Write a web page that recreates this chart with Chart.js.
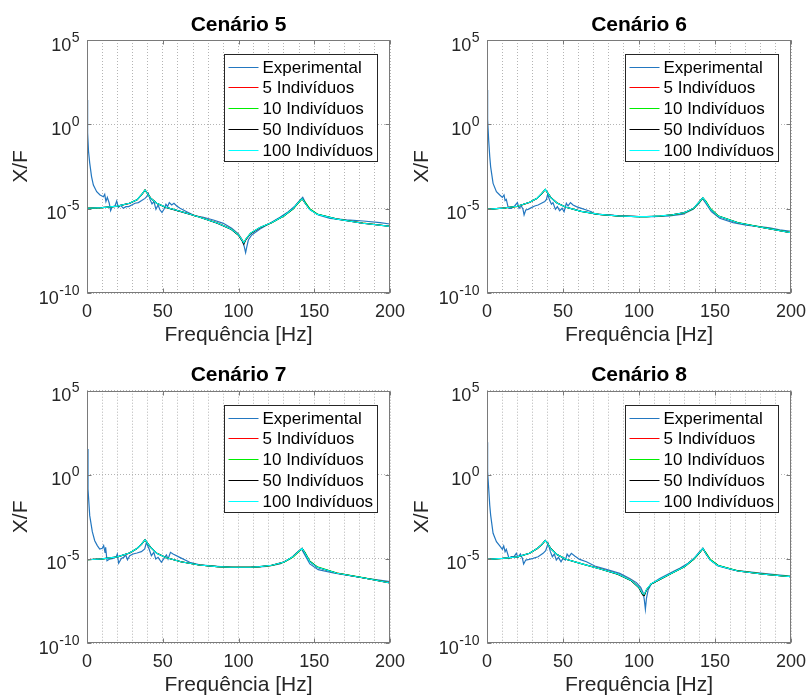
<!DOCTYPE html>
<html>
<head>
<meta charset="utf-8">
<script src="https://cdn.jsdelivr.net/npm/chart.js@4.4.1/dist/chart.umd.min.js"></script>
<style>
  html, body { margin: 0; padding: 0; background: #fff; }
  #fig { position: relative; width: 810px; height: 698px; }
  #fig canvas { position: absolute; }
</style>
</head>
<body>
<div id="fig">
  <canvas id="cen5" width="405" height="349" style="left:0;top:0"></canvas>
  <canvas id="cen6" width="405" height="349" style="left:405px;top:0"></canvas>
  <canvas id="cen7" width="405" height="349" style="left:0;top:349px"></canvas>
  <canvas id="cen8" width="405" height="349" style="left:405px;top:349px"></canvas>
</div>
<script>
const FONT = '"Liberation Sans", Arial, Helvetica, sans-serif';
const TEXT = '#262626';
const GRID = '#b4b4b4';
const FRAME = '#7a7a7a';

const panelTitles = ['Cenário 5', 'Cenário 6', 'Cenário 7', 'Cenário 8'];
const seriesLabels = ['Experimental', '5 Indivíduos', '10 Indivíduos', '50 Indivíduos', '100 Indivíduos'];
const seriesColors = ['#2377c0', '#ff0000', '#00ee00', '#000000', '#00ffff'];

const xTickLabels = [0, 50, 100, 150, 200];
const xGridValues = [0, 10, 20, 30, 40, 50, 60, 70, 80, 90, 100, 110, 120, 130, 140, 150, 160, 170, 180, 190, 200];
const yTickValues = [1e-10, 1e-5, 1, 1e5];
const yTickExponents = ['-10', '-5', '0', '5'];

// frequency grid of the identified models (Hz)
const modelFreq = [0, 10, 20, 28, 33, 36, 38.3, 40, 42, 46, 52, 62, 74, 86, 95, 100, 102.5, 103.5, 105, 108,
  114, 122, 130, 136, 140, 142, 144, 147, 152, 165, 182, 200];

// Cenário 5
const expFreq5 = [0, 0.4, 1.0, 1.8, 3.0, 4.2, 6.4, 8.6, 10.8, 11.7, 12.5, 13.4, 14.7, 15.6, 16.7, 18.3, 19.6, 20.7,
  22.2, 24.0, 25.7, 27.5, 29.5, 31.7, 33.9, 36.1, 38.3, 39.4, 40.5, 41.6, 42.9, 44.2, 45.5, 46.9, 48.2, 49.5, 50.8,
  52.1, 53.2, 54.3, 55.9, 57.4, 59.2, 61.4, 65.8, 71.3, 76.8, 83.4, 90.0, 95.5, 99.9, 102.5, 103.8, 104.7, 105.4,
  106.5, 108.7, 114.2, 120.8, 127.4, 132.9, 137.3, 140.6, 142.4, 144.1, 147.2, 152.7, 160.4, 171.4, 182.4, 193.4, 200];
const cen5Exp = [27.5, 0.316, 0.0251, 5.01e-3, 7.94e-4, 2.51e-4, 1.02e-4, 6.46e-5, 5.13e-5, 7.08e-5, 2.63e-5, 4.68e-5,
  2.09e-5, 7.59e-6, 1.32e-5, 1.32e-5, 2.82e-5, 1.20e-5, 1.58e-5, 1.05e-5, 1.32e-5, 1.32e-5, 1.66e-5, 2.09e-5, 2.29e-5,
  3.02e-5, 4.07e-5, 5.13e-5, 8.13e-5, 3.55e-5, 1.91e-5, 2.63e-5, 9.12e-6, 1.66e-5, 8.32e-6, 6.03e-6, 9.12e-6, 1.82e-5,
  1.32e-5, 2.29e-5, 1.66e-5, 2.09e-5, 1.45e-5, 1.05e-5, 6.61e-6, 3.72e-6, 3.09e-6, 2.14e-6, 1.35e-6, 6.92e-7, 3.16e-7,
  1.38e-7, 5.62e-8, 2.45e-8, 5.13e-8, 1.38e-7, 2.75e-7, 6.31e-7, 1.35e-6, 3.09e-6, 6.61e-6, 1.45e-5, 3.24e-5, 4.68e-5,
  2.29e-5, 9.12e-6, 4.27e-6, 2.69e-6, 2.14e-6, 1.86e-6, 1.48e-6, 1.23e-6];
const cen5Ind5 = [1.05e-5, 1.15e-5, 1.40e-5, 2.05e-5, 3.30e-5, 6.60e-5, 1.25e-4, 7.80e-5, 4.30e-5, 2.12e-5, 1.21e-5,
  6.80e-6, 3.28e-6, 1.44e-6, 6.45e-7, 2.90e-7, 1.38e-7, 1.00e-7, 1.60e-7, 3.45e-7, 7.45e-7, 1.49e-6, 3.72e-6, 9.70e-6,
  2.55e-5, 3.90e-5, 2.18e-5, 9.20e-6, 4.62e-6, 2.42e-6, 1.39e-6, 9.00e-7];
const cen5Ind10 = [1.04e-5, 1.14e-5, 1.40e-5, 2.07e-5, 3.35e-5, 6.70e-5, 1.27e-4, 7.70e-5, 4.22e-5, 2.10e-5, 1.20e-5,
  6.75e-6, 3.22e-6, 1.40e-6, 6.20e-7, 2.75e-7, 1.28e-7, 9.20e-8, 1.62e-7, 3.50e-7, 7.50e-7, 1.48e-6, 3.70e-6, 9.40e-6,
  2.40e-5, 3.75e-5, 2.45e-5, 1.00e-5, 4.80e-6, 2.45e-6, 1.40e-6, 9.10e-7];
const cen5Ind50 = [1.05e-5, 1.15e-5, 1.41e-5, 2.08e-5, 3.37e-5, 6.72e-5, 1.28e-4, 7.65e-5, 4.20e-5, 2.09e-5, 1.19e-5,
  6.70e-6, 3.20e-6, 1.38e-6, 6.10e-7, 2.65e-7, 1.18e-7, 7.80e-8, 1.52e-7, 3.40e-7, 7.40e-7, 1.50e-6, 3.78e-6, 9.90e-6,
  2.60e-5, 3.95e-5, 2.15e-5, 9.10e-6, 4.60e-6, 2.41e-6, 1.38e-6, 8.95e-7];
const cen5Ind100 = [1.05e-5, 1.15e-5, 1.41e-5, 2.09e-5, 3.39e-5, 6.76e-5, 1.29e-4, 7.59e-5, 4.17e-5, 2.09e-5, 1.20e-5,
  6.76e-6, 3.24e-6, 1.41e-6, 6.31e-7, 2.82e-7, 1.32e-7, 9.55e-8, 1.66e-7, 3.55e-7, 7.59e-7, 1.51e-6, 3.80e-6, 1.00e-5,
  2.63e-5, 3.98e-5, 2.09e-5, 8.91e-6, 4.57e-6, 2.40e-6, 1.38e-6, 8.91e-7];

// Cenário 6
const expFreq6 = [0, 0.4, 1.1, 1.8, 2.4, 4.0, 6.2, 8.4, 10.1, 11.2, 11.9, 12.7, 13.8, 14.5, 16.0, 18.2, 20.0, 21.1,
  22.6, 23.7, 24.4, 25.5, 27.0, 29.2, 31.4, 33.6, 35.8, 38.0, 39.1, 39.9, 41.3, 42.4, 43.4, 45.0, 46.3, 47.8, 49.4,
  50.7, 52.2, 53.3, 54.9, 56.6, 58.8, 62.1, 65.4, 68.7, 70.9, 78.5, 87.3, 98.3, 109.2, 120.2, 129.0, 135.6, 139.5,
  141.7, 143.9, 147.6, 153.1, 161.9, 170.6, 179.4, 186.0, 192.6, 200];
const cen6Exp = [107, 2.0, 0.115, 0.0126, 3.02e-3, 3.16e-4, 1.02e-4, 6.46e-5, 4.68e-5, 6.46e-5, 3.02e-5, 3.55e-5,
  1.32e-5, 1.05e-5, 1.05e-5, 1.45e-5, 2.29e-5, 1.05e-5, 1.45e-5, 9.12e-6, 4.27e-6, 8.32e-6, 9.12e-6, 1.15e-5, 1.45e-5,
  1.66e-5, 2.09e-5, 2.63e-5, 3.55e-5, 7.08e-5, 3.02e-5, 1.82e-5, 2.29e-5, 9.12e-6, 1.32e-5, 7.59e-6, 1.05e-5, 6.61e-6,
  2.09e-5, 1.45e-5, 2.29e-5, 1.66e-5, 1.32e-5, 1.05e-5, 8.32e-6, 6.61e-6, 4.79e-6, 4.27e-6, 3.72e-6, 3.39e-6, 3.39e-6,
  3.72e-6, 4.79e-6, 9.12e-6, 2.09e-5, 4.07e-5, 2.09e-5, 6.61e-6, 2.69e-6, 1.48e-6, 1.07e-6, 8.51e-7, 7.41e-7, 5.50e-7,
  4.57e-7];
const cen6Ind5 = [9.12e-6, 1.07e-5, 1.37e-5, 2.35e-5, 4.05e-5, 7.70e-5, 1.36e-4, 8.50e-5, 4.60e-5, 2.22e-5, 1.21e-5,
  6.95e-6, 4.58e-6, 3.73e-6, 3.48e-6, 3.40e-6, 3.40e-6, 3.40e-6, 3.40e-6, 3.47e-6, 3.70e-6, 4.33e-6, 5.80e-6, 1.04e-5,
  2.72e-5, 4.35e-5, 2.62e-5, 9.60e-6, 3.70e-6, 1.46e-6, 7.45e-7, 3.75e-7];
const cen6Ind10 = [9.10e-6, 1.06e-5, 1.37e-5, 2.38e-5, 4.12e-5, 7.85e-5, 1.39e-4, 8.40e-5, 4.52e-5, 2.20e-5, 1.20e-5,
  6.90e-6, 4.55e-6, 3.71e-6, 3.46e-6, 3.38e-6, 3.38e-6, 3.38e-6, 3.38e-6, 3.45e-6, 3.68e-6, 4.30e-6, 5.70e-6, 1.00e-5,
  2.60e-5, 4.20e-5, 2.80e-5, 1.02e-5, 3.85e-6, 1.50e-6, 7.55e-7, 3.80e-7];
const cen6Ind50 = [9.12e-6, 1.07e-5, 1.38e-5, 2.39e-5, 4.15e-5, 7.90e-5, 1.40e-4, 8.35e-5, 4.49e-5, 2.19e-5, 1.20e-5,
  6.91e-6, 4.56e-6, 3.72e-6, 3.47e-6, 3.39e-6, 3.39e-6, 3.39e-6, 3.39e-6, 3.46e-6, 3.71e-6, 4.35e-6, 5.85e-6, 1.06e-5,
  2.78e-5, 4.42e-5, 2.56e-5, 9.45e-6, 3.66e-6, 1.46e-6, 7.43e-7, 3.73e-7];
const cen6Ind100 = [9.12e-6, 1.07e-5, 1.38e-5, 2.40e-5, 4.17e-5, 7.94e-5, 1.41e-4, 8.32e-5, 4.47e-5, 2.19e-5, 1.20e-5,
  6.92e-6, 4.57e-6, 3.72e-6, 3.47e-6, 3.39e-6, 3.39e-6, 3.39e-6, 3.39e-6, 3.47e-6, 3.72e-6, 4.37e-6, 5.89e-6, 1.07e-5,
  2.82e-5, 4.47e-5, 2.51e-5, 9.33e-6, 3.63e-6, 1.45e-6, 7.41e-7, 3.72e-7];

// Cenário 7
const expFreq7 = [0, 0.66, 1.8, 3.5, 5.1, 6.8, 8.4, 10.1, 11.0, 11.9, 12.3, 13.2, 15.0, 17.2, 19.4, 20.0, 20.9, 22.7,
  24.2, 25.6, 26.7, 28.2, 30.4, 33.0, 35.9, 38.1, 39.2, 41.0, 42.5, 44.1, 45.4, 46.9, 49.1, 51.3, 52.4, 53.5, 55.1,
  56.8, 61.2, 67.8, 74.4, 85.5, 96.5, 107.5, 118.5, 127.3, 133.9, 138.3, 141.6, 143.8, 147.1, 152.6, 162.6, 173.6,
  184.6, 200];
const cen7Exp = [33.9, 0.141, 3.72e-3, 4.17e-4, 1.20e-4, 6.17e-5, 3.89e-5, 4.27e-5, 6.17e-5, 2.45e-5, 4.90e-5, 7.76e-6,
  9.77e-6, 1.07e-5, 1.41e-5, 1.95e-5, 5.50e-6, 1.07e-5, 1.23e-5, 1.70e-5, 8.91e-6, 1.55e-5, 1.95e-5, 2.24e-5, 2.69e-5,
  3.89e-5, 9.55e-5, 3.89e-5, 1.55e-5, 2.45e-5, 9.77e-6, 1.23e-5, 6.31e-6, 1.23e-5, 1.70e-5, 9.77e-6, 2.45e-5, 1.95e-5,
  1.23e-5, 6.31e-6, 4.37e-6, 3.63e-6, 3.16e-6, 3.16e-6, 3.63e-6, 5.01e-6, 9.77e-6, 2.24e-5, 3.89e-5, 1.70e-5, 5.01e-6,
  2.29e-6, 1.45e-6, 1.00e-6, 6.92e-7, 4.47e-7];
const cen7Ind5 = [8.91e-6, 1.00e-5, 1.31e-5, 2.20e-5, 4.05e-5, 7.40e-5, 1.33e-4, 8.50e-5, 4.90e-5, 2.22e-5, 1.21e-5,
  6.80e-6, 4.38e-6, 3.48e-6, 3.17e-6, 3.16e-6, 3.16e-6, 3.16e-6, 3.16e-6, 3.16e-6, 3.45e-6, 4.12e-6, 6.50e-6, 1.34e-5,
  2.92e-5, 4.18e-5, 2.18e-5, 7.15e-6, 3.22e-6, 1.42e-6, 7.62e-7, 3.74e-7];
const cen7Ind10 = [8.90e-6, 9.90e-6, 1.31e-5, 2.22e-5, 4.12e-5, 7.50e-5, 1.36e-4, 8.40e-5, 4.84e-5, 2.20e-5, 1.20e-5,
  6.74e-6, 4.35e-6, 3.46e-6, 3.15e-6, 3.15e-6, 3.15e-6, 3.15e-6, 3.15e-6, 3.15e-6, 3.44e-6, 4.10e-6, 6.35e-6, 1.28e-5,
  2.80e-5, 4.05e-5, 2.35e-5, 7.60e-6, 3.35e-6, 1.45e-6, 7.70e-7, 3.78e-7];
const cen7Ind50 = [8.91e-6, 1.00e-5, 1.32e-5, 2.23e-5, 4.15e-5, 7.55e-5, 1.37e-4, 8.35e-5, 4.80e-5, 2.19e-5, 1.20e-5,
  6.75e-6, 4.36e-6, 3.47e-6, 3.16e-6, 3.16e-6, 3.16e-6, 3.16e-6, 3.16e-6, 3.16e-6, 3.46e-6, 4.15e-6, 6.55e-6, 1.36e-5,
  2.98e-5, 4.23e-5, 2.13e-5, 7.00e-6, 3.18e-6, 1.41e-6, 7.60e-7, 3.72e-7];
const cen7Ind100 = [8.91e-6, 1.00e-5, 1.32e-5, 2.24e-5, 4.17e-5, 7.59e-5, 1.38e-4, 8.32e-5, 4.79e-5, 2.19e-5, 1.20e-5,
  6.76e-6, 4.37e-6, 3.47e-6, 3.16e-6, 3.16e-6, 3.16e-6, 3.16e-6, 3.16e-6, 3.16e-6, 3.47e-6, 4.17e-6, 6.61e-6, 1.38e-5,
  3.02e-5, 4.27e-5, 2.09e-5, 6.92e-6, 3.16e-6, 1.41e-6, 7.59e-7, 3.72e-7];

// Cenário 8
const expFreq8 = [0, 0.4, 1.1, 1.8, 2.4, 4.0, 6.2, 8.4, 10.1, 11.0, 11.9, 12.7, 14.5, 16.0, 17.8, 19.3, 20.4, 22.0,
  23.3, 24.1, 25.5, 27.7, 30.3, 33.6, 36.9, 38.6, 40.2, 41.7, 43.0, 44.3, 45.6, 47.0, 48.7, 50.0, 51.6, 52.7, 54.0,
  55.5, 57.7, 61.0, 65.4, 70.9, 78.5, 87.3, 93.9, 98.3, 101.1, 102.7, 103.5, 104.2, 104.9, 106.0, 108.1, 113.6, 120.2,
  126.8, 132.3, 136.6, 139.9, 142.1, 143.9, 146.5, 152.0, 161.9, 170.6, 181.6, 192.6, 200];
const cen8Exp = [85.1, 1.58, 0.158, 0.0158, 3.98e-3, 3.31e-4, 1.05e-4, 5.89e-5, 3.72e-5, 5.89e-5, 2.69e-5, 3.72e-5,
  1.07e-5, 1.35e-5, 1.35e-5, 2.14e-5, 1.23e-5, 1.95e-5, 1.07e-5, 5.01e-6, 8.51e-6, 9.33e-6, 1.07e-5, 1.35e-5, 2.14e-5,
  3.09e-5, 8.32e-5, 2.69e-5, 1.35e-5, 1.95e-5, 8.51e-6, 1.23e-5, 6.76e-6, 1.07e-5, 8.51e-6, 1.95e-5, 1.35e-5, 2.14e-5,
  1.48e-5, 9.33e-6, 6.76e-6, 3.80e-6, 2.40e-6, 1.38e-6, 6.92e-7, 3.89e-7, 2.04e-7, 9.77e-8, 3.63e-8, 1.00e-8, 4.47e-8,
  1.41e-7, 3.24e-7, 6.92e-7, 1.38e-6, 2.75e-6, 5.50e-6, 1.17e-5, 2.69e-5, 4.27e-5, 2.14e-5, 9.33e-6, 3.80e-6, 2.19e-6,
  1.74e-6, 1.38e-6, 1.10e-6, 9.55e-7];
const cen8Ind5 = [9.33e-6, 1.07e-5, 1.31e-5, 2.15e-5, 4.05e-5, 6.90e-5, 1.22e-4, 8.10e-5, 4.08e-5, 1.84e-5, 9.60e-6,
  5.28e-6, 2.66e-6, 1.28e-6, 5.35e-7, 2.10e-7, 8.80e-8, 8.20e-8, 1.52e-7, 3.22e-7, 6.20e-7, 1.49e-6, 3.48e-6, 9.70e-6,
  2.43e-5, 4.15e-5, 2.18e-5, 8.60e-6, 4.05e-6, 1.93e-6, 1.24e-6, 8.75e-7];
const cen8Ind10 = [9.30e-6, 1.06e-5, 1.31e-5, 2.17e-5, 4.12e-5, 7.00e-5, 1.24e-4, 8.00e-5, 4.02e-5, 1.83e-5, 9.55e-6,
  5.22e-6, 2.60e-6, 1.24e-6, 5.10e-7, 1.95e-7, 7.60e-8, 7.00e-8, 1.50e-7, 3.22e-7, 6.20e-7, 1.47e-6, 3.45e-6, 9.40e-6,
  2.32e-5, 4.00e-5, 2.40e-5, 9.20e-6, 4.20e-6, 1.96e-6, 1.25e-6, 8.80e-7];
const cen8Ind50 = [9.33e-6, 1.07e-5, 1.32e-5, 2.18e-5, 4.15e-5, 7.05e-5, 1.25e-4, 7.98e-5, 4.00e-5, 1.82e-5, 9.52e-6,
  5.20e-6, 2.58e-6, 1.22e-6, 5.00e-7, 1.88e-7, 7.00e-8, 6.60e-8, 1.48e-7, 3.25e-7, 6.25e-7, 1.50e-6, 3.52e-6, 9.85e-6,
  2.47e-5, 4.22e-5, 2.13e-5, 8.45e-6, 4.02e-6, 1.92e-6, 1.23e-6, 8.72e-7];
const cen8Ind100 = [9.33e-6, 1.07e-5, 1.32e-5, 2.19e-5, 4.17e-5, 7.08e-5, 1.26e-4, 7.94e-5, 3.98e-5, 1.82e-5, 9.55e-6,
  5.25e-6, 2.63e-6, 1.26e-6, 5.25e-7, 2.04e-7, 8.32e-8, 7.94e-8, 1.58e-7, 3.31e-7, 6.31e-7, 1.51e-6, 3.55e-6, 1.00e-5,
  2.51e-5, 4.27e-5, 2.09e-5, 8.32e-6, 3.98e-6, 1.91e-6, 1.23e-6, 8.71e-7];

// layout of each subplot inside its canvas
const panels = [
  { id: 'cen5', title: panelTitles[0], expFreq: expFreq5, exp: cen5Exp,
    models: [cen5Ind5, cen5Ind10, cen5Ind50, cen5Ind100],
    left: 87, padRight: 15, xAxisH: 56, titlePad: [12.7, 2.1], xTitlePad: 1, yTitlePad: 8.7 },
  { id: 'cen6', title: panelTitles[1], expFreq: expFreq6, exp: cen6Exp,
    models: [cen6Ind5, cen6Ind10, cen6Ind50, cen6Ind100],
    left: 82, padRight: 19, xAxisH: 56, titlePad: [12.7, 2.1], xTitlePad: 1, yTitlePad: 4.6 },
  { id: 'cen7', title: panelTitles[2], expFreq: expFreq7, exp: cen7Exp,
    models: [cen7Ind5, cen7Ind10, cen7Ind50, cen7Ind100],
    left: 87, padRight: 15, xAxisH: 55, titlePad: [13.7, 2.8], xTitlePad: 0, yTitlePad: 8.7 },
  { id: 'cen8', title: panelTitles[3], expFreq: expFreq8, exp: cen8Exp,
    models: [cen8Ind5, cen8Ind10, cen8Ind50, cen8Ind100],
    left: 82, padRight: 19, xAxisH: 55, titlePad: [13.7, 2.8], xTitlePad: 0, yTitlePad: 4.6 }
];

function toPoints(freq, vals) {
  return freq.map((f, i) => ({ x: f, y: vals[i] }));
}

// axes box with inward tick marks, superscript y labels and the boxed legend
const matlabAxes = {
  id: 'matlabAxes',
  afterDatasetsDraw(chart) {
    const { ctx, chartArea: a, scales: { x, y } } = chart;
    const L = Math.round(a.left) + 0.5, R = Math.round(a.right) - 0.5;
    const T = Math.round(a.top) + 0.5, B = Math.round(a.bottom) - 0.5;
    ctx.save();
    ctx.strokeStyle = FRAME;
    ctx.lineWidth = 1;
    ctx.strokeRect(L, T, R - L, B - T);
    ctx.beginPath();
    xTickLabels.forEach(v => {
      const px = Math.round(x.getPixelForValue(v)) + 0.5;
      ctx.moveTo(px, B); ctx.lineTo(px, B - 4);
      ctx.moveTo(px, T); ctx.lineTo(px, T + 4);
    });
    yTickValues.forEach(v => {
      const py = Math.round(y.getPixelForValue(v)) + 0.5;
      ctx.moveTo(L, py); ctx.lineTo(L + 4, py);
      ctx.moveTo(R, py); ctx.lineTo(R - 4, py);
    });
    ctx.stroke();
    ctx.restore();
  },
  afterDraw(chart) {
    const { ctx, chartArea: a, scales: { y } } = chart;
    ctx.save();
    ctx.fillStyle = TEXT;
    ctx.textAlign = 'right';
    ctx.textBaseline = 'alphabetic';
    const xr = a.left - 7.5;
    yTickValues.forEach((v, i) => {
      const py = y.getPixelForValue(v);
      ctx.font = '14px ' + FONT;
      const ew = ctx.measureText(yTickExponents[i]).width;
      ctx.fillText(yTickExponents[i], xr, py + 1.5);
      ctx.font = '18px ' + FONT;
      ctx.fillText('10', xr - ew - 0.5, py + 10.5);
    });

    ctx.font = '17px ' + FONT;
    const textW = Math.max(...chart.data.datasets.map(d => ctx.measureText(d.label).width));
    const w = Math.round(4 + 30 + 4 + textW + 4);
    const h = 107;
    const x0 = Math.round(a.right - 13.5 - w) + 0.5;
    const y0 = Math.round(a.top + 14.3) + 0.5;
    ctx.fillStyle = '#fff';
    ctx.fillRect(x0, y0, w, h);
    ctx.strokeStyle = TEXT;
    ctx.lineWidth = 1;
    ctx.strokeRect(x0, y0, w, h);
    ctx.textAlign = 'left';
    ctx.textBaseline = 'middle';
    chart.data.datasets.forEach((d, i) => {
      const cy = Math.round(y0 + 12 + i * 20.8) + 0.5;
      ctx.strokeStyle = d.borderColor;
      ctx.lineWidth = 1;
      ctx.beginPath();
      ctx.moveTo(x0 + 4, cy);
      ctx.lineTo(x0 + 34, cy);
      ctx.stroke();
      ctx.fillStyle = '#000';
      ctx.fillText(d.label, x0 + 38, cy + 0.5);
    });
    ctx.restore();
  }
};

function makeChart(p) {
  const datasets = [{
    label: seriesLabels[0],
    data: toPoints(p.expFreq, p.exp),
    borderColor: seriesColors[0],
    borderWidth: 1.2,
    order: 5
  }];
  p.models.forEach((vals, i) => {
    datasets.push({
      label: seriesLabels[i + 1],
      data: toPoints(modelFreq, vals),
      borderColor: seriesColors[i + 1],
      borderWidth: 1.1,
      order: 4 - i
    });
  });

  new Chart(document.getElementById(p.id), {
    type: 'line',
    data: { datasets },
    options: {
      responsive: false,
      animation: false,
      events: [],
      elements: { point: { radius: 0 }, line: { tension: 0, fill: false } },
      layout: { padding: { left: 0, right: p.padRight, top: 0, bottom: 0 } },
      plugins: {
        legend: { display: false },
        tooltip: { enabled: false },
        title: {
          display: true,
          text: p.title,
          fullSize: false,
          color: '#000',
          font: { family: FONT, size: 21, weight: 'bold' },
          padding: { top: p.titlePad[0], bottom: p.titlePad[1] }
        }
      },
      scales: {
        x: {
          type: 'linear',
          min: 0,
          max: 200,
          afterBuildTicks: s => { s.ticks = xGridValues.map(v => ({ value: v })); },
          afterFit: s => {
            s.height = p.xAxisH;
            // the plot box is placed by layout padding, not by label overhang
            s.paddingLeft = 0;
            s.paddingRight = 0;
          },
          grid: { color: GRID, lineWidth: 1, drawTicks: false, borderDash: [1, 2] },
          border: { display: false, dash: [1, 2] },
          ticks: {
            autoSkip: false,
            maxRotation: 0,
            padding: 8,
            color: TEXT,
            font: { family: FONT, size: 18 },
            callback: v => (xTickLabels.includes(v) ? String(v) : '')
          },
          title: {
            display: true,
            text: 'Frequência [Hz]',
            color: TEXT,
            font: { family: FONT, size: 21 },
            padding: { top: 0, bottom: p.xTitlePad }
          }
        },
        y: {
          type: 'logarithmic',
          min: 1e-10,
          max: 1e5,
          afterBuildTicks: s => { s.ticks = yTickValues.map(v => ({ value: v })); },
          afterFit: s => { s.width = p.left; },
          grid: { color: GRID, lineWidth: 1, drawTicks: false, borderDash: [1, 2] },
          border: { display: false, dash: [1, 2] },
          ticks: { display: false },
          title: {
            display: true,
            text: 'X/F',
            color: TEXT,
            font: { family: FONT, size: 21 },
            padding: { top: p.yTitlePad, bottom: 0 }
          }
        }
      }
    },
    plugins: [matlabAxes]
  });
}

panels.forEach(makeChart);
</script>
</body>
</html>
